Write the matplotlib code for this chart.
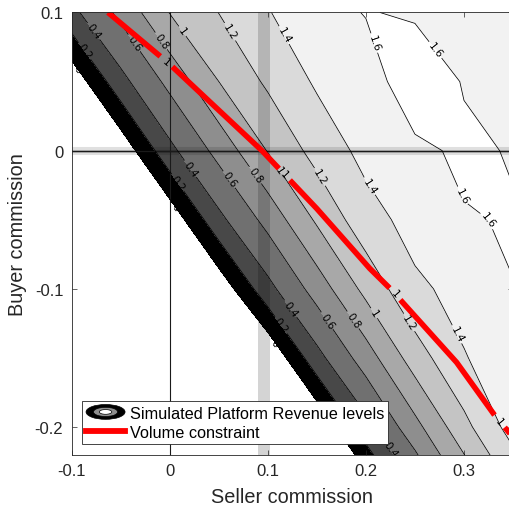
import numpy as np
import matplotlib
matplotlib.use('Agg')
import matplotlib.pyplot as plt
from matplotlib.legend_handler import HandlerBase
from matplotlib.patches import Ellipse
from matplotlib.lines import Line2D

plt.rcParams['font.family'] = ['Liberation Sans', 'DejaVu Sans']
plt.rcParams['axes.unicode_minus'] = False

# simulation grid (commission values)
seller_grid = [-0.1, -0.05, 0.0, 0.05, 0.1, 0.15, 0.2, 0.25, 0.3, 0.35]
buyer_grid = [-0.25, -0.2, -0.15, -0.1, -0.05, 0.0, 0.05, 0.1]

# simulated platform revenue, one row per buyer commission (bottom to top)
revenue = [
    [-1.4, -1.2, -1.0, -0.8, -0.6, -0.4, -0.2, 0.33, 0.78, 1.18],
    [-1.2, -1.0, -0.8, -0.6, -0.4, -0.2, 0.33, 0.735, 1.14, 1.485],
    [-1.0, -0.8, -0.6, -0.4, -0.2, 0.335, 0.70, 1.10, 1.39, 1.50],
    [-0.8, -0.6, -0.4, -0.15, 0.34, 0.685, 1.06, 1.364, 1.459, 1.597],
    [-0.6, -0.4, -0.15, 0.35, 0.665, 1.03, 1.323, 1.471, 1.585, 1.615],
    [-0.4, -0.15, 0.35, 0.665, 1.01, 1.274, 1.459, 1.55, 1.64, 1.585],
    [-0.15, 0.34, 0.655, 1.0, 1.235, 1.427, 1.475, 1.76, 1.585, 1.53],
    [0.35, 0.65, 1.007, 1.203, 1.392, 1.50, 1.612, 1.57, 1.54, 1.50],
]
revenue_levels = [0, 0.2, 0.4, 0.6, 0.8, 1.0, 1.2, 1.4, 1.6, 1.8]
band_colors = ['#000000', '#484848', '#707070', '#8e8e8e', '#a8a8a8',
               '#c4c4c4', '#dadada', '#f2f2f2', '#ffffff']

# volume constraint (volume = 1) path
volume_seller = [-0.063, 0.0, 0.094, 0.15, 0.204, 0.225, 0.2925, 0.3316, 0.35]
volume_buyer = [0.1, 0.0625, 0.0, -0.042, -0.0853, -0.1, -0.1532, -0.1918, -0.2074]

# status quo commissions
base_seller = (0.09, 0.102)
base_buyer = 0.0

# where the contour labels sit
revenue_label_pos = [
    (-0.0946, 0.0592), (-0.0865, 0.0723), (-0.0742, 0.0882), (-0.0375, 0.0774),
    (-0.010, 0.0788), (0.0135, 0.0868), (0.0614, 0.0860), (0.110, 0.081),
    (0.216, 0.0797), (0.263, 0.0686),
    (0.0073, -0.0398), (0.0104, -0.0219), (0.0237, -0.0117), (0.0614, -0.0204),
    (0.0848, -0.019), (0.1103, -0.0146), (0.153, -0.019), (0.204, -0.0255),
    (0.3027, -0.0313), (0.3418, -0.040),
    (0.1083, -0.1384), (0.1124, -0.1268), (0.1226, -0.1146), (0.160, -0.1232),
    (0.1837, -0.124), (0.204, -0.1196), (0.2418, -0.1253), (0.2939, -0.1325),
    (0.2266, -0.2152),
]
volume_label_pos = [(-0.0029, 0.065), (0.1164, -0.0175), (0.2276, -0.105), (0.3366, -0.1956)]

label_font = ['DejaVu Sans']


class RevenueIcon:
    pass


class RingHandler(HandlerBase):
    def create_artists(self, legend, orig_handle, xdescent, ydescent,
                       width, height, fontsize, trans):
        cx = 0.5 * width - xdescent
        cy = 0.5 * height - ydescent
        arts = []
        for k, col in [(1.0, 'black'), (0.62, '#8e8e8e'), (0.32, 'white')]:
            e = Ellipse((cx, cy), width * k, height * 1.1 * k, facecolor=col,
                        edgecolor='black', lw=0.5, transform=trans)
            arts.append(e)
        return arts


def draw_with_gaps(ax, xs, ys, gaps, gap_px, **kw):
    pts = ax.transData.transform(np.column_stack([xs, ys]))
    seg = np.diff(pts, axis=0)
    seglen = np.hypot(seg[:, 0], seg[:, 1])
    cum = np.concatenate([[0], np.cumsum(seglen)])

    def point_at(a):
        i = min(np.searchsorted(cum, a, side='right') - 1, len(seg) - 1)
        t = (a - cum[i]) / seglen[i]
        return pts[i] + t * seg[i]

    cuts = []
    for gx, gy in gaps:
        p = ax.transData.transform((gx, gy))
        best = None
        for i in range(len(seg)):
            t = np.clip(np.dot(p - pts[i], seg[i]) / seglen[i] ** 2, 0, 1)
            q = pts[i] + t * seg[i]
            d = np.hypot(*(p - q))
            if best is None or d < best[0]:
                ang = np.degrees(np.arctan2(seg[i, 1], seg[i, 0]))
                best = (d, cum[i] + t * seglen[i], ang, q)
        cuts.append(best)
    cuts.sort(key=lambda c: c[1])

    inv = ax.transData.inverted()
    lo = 0.0
    bounds = []
    for c in cuts:
        bounds.append((lo, c[1] - gap_px / 2))
        lo = c[1] + gap_px / 2
    bounds.append((lo, cum[-1]))
    for a, b in bounds:
        inner = [pts[j] for j in range(len(pts)) if a < cum[j] < b]
        piece = np.array([point_at(a)] + inner + [point_at(b)])
        d = inv.transform(piece)
        ax.plot(d[:, 0], d[:, 1], **kw)

    for c in cuts:
        ang = c[2]
        if ang > 90:
            ang -= 180
        if ang < -90:
            ang += 180
        tx, ty = inv.transform(c[3])
        ax.text(tx, ty, '1', fontsize=7.5, family=label_font, rotation=ang,
                rotation_mode='anchor', ha='center', va='center', zorder=6)


S, B = np.meshgrid(seller_grid, buyer_grid)
Z = np.array(revenue)

fig = plt.figure(figsize=(5.10, 5.06), dpi=100)
ax = fig.add_axes([0.1406, 0.0994, 0.8653, 0.874])
ax.set_xlim(-0.1, 0.35)
ax.set_ylim(-0.22, 0.1)

ax.contourf(S, B, Z, levels=revenue_levels, colors=band_colors, zorder=1)

# status quo markers
ax.axvspan(base_seller[0], base_seller[1], color='black', alpha=0.17, lw=0, zorder=2)
ax.axhline(base_buyer, color='black', alpha=0.12, lw=5.8, zorder=2)
ax.axhline(base_buyer, color='black', alpha=0.18, lw=2.2, zorder=2)
ax.axhline(0, color='#1a1a1a', lw=0.9, zorder=2.2)
ax.axvline(0, color='#1a1a1a', lw=0.8, zorder=2.2)

cs = ax.contour(S, B, Z, levels=revenue_levels[:-1], colors='black',
                linewidths=0.55, zorder=3)
texts = ax.clabel(cs, manual=revenue_label_pos, inline=True, inline_spacing=3,
                  fontsize=7.5, fmt='%g', colors='black')
for t in texts:
    t.set_family(label_font)

draw_with_gaps(ax, volume_seller, volume_buyer, volume_label_pos, 16,
               color='#ff0000', lw=4.0, solid_capstyle='butt', zorder=5)

ax.set_xticks([-0.1, 0, 0.1, 0.2, 0.3])
ax.set_xticklabels(['-0.1', '0', '0.1', '0.2', '0.3'])
ax.set_yticks([-0.2, -0.1, 0, 0.1])
ax.set_yticklabels(['-0.2', '-0.1', '0', '0.1'])
ax.tick_params(direction='in', length=3.5, width=0.5, top=True, right=True,
               labelsize=12, labelcolor='#262626', color='#262626', pad=6)
for sp in ax.spines.values():
    sp.set_color('#262626')
    sp.set_linewidth(0.6)
    sp.set_zorder(7)

ax.set_xlabel('Seller commission', fontsize=14.3, color='#262626')
ax.set_ylabel('Buyer commission', fontsize=14.3, color='#262626')
ax.xaxis.set_label_coords(0.5, -0.073)
ax.yaxis.set_label_coords(-0.1024, 0.5)

handles = [RevenueIcon(), Line2D([], [], color='#ff0000', lw=4.2)]
labels = ['Simulated Platform Revenue levels', 'Volume constraint']
leg = ax.legend(handles, labels, handler_map={RevenueIcon: RingHandler()},
                loc='lower left', bbox_to_anchor=(0.0233, 0.0242),
                borderaxespad=0, borderpad=0.25, labelspacing=0.25,
                handletextpad=0.3, handlelength=2.4, handleheight=0.9,
                fontsize=11.7, fancybox=False, framealpha=1,
                edgecolor='#262626')
leg.get_frame().set_linewidth(0.6)
leg.set_zorder(10)

fig.savefig('out.png', dpi=100)
